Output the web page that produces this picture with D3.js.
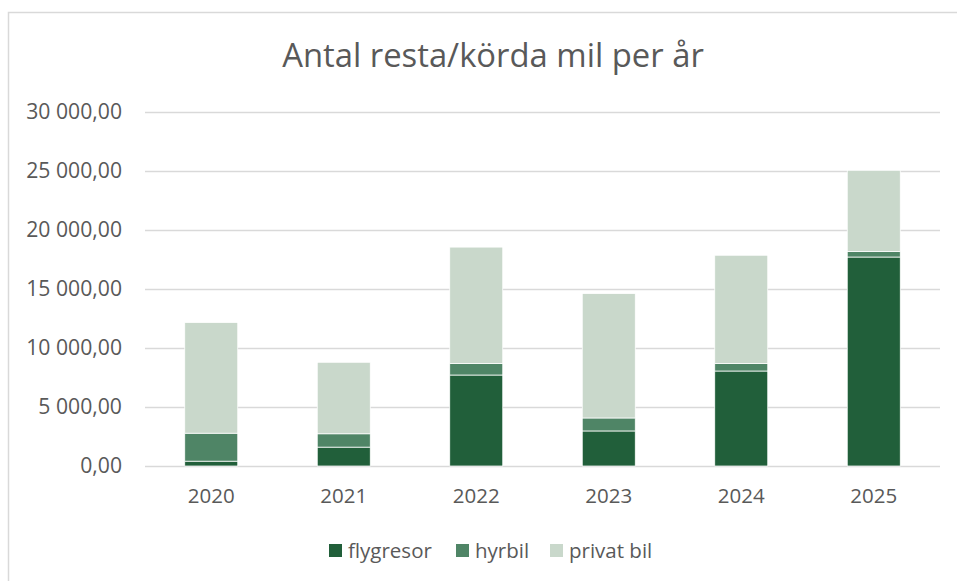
<!DOCTYPE html>
<html>
<head>
<meta charset="utf-8">
<script src="https://cdn.jsdelivr.net/npm/d3@7"></script>
<style>
  body { margin: 0; background: #fff; }
  svg { display: block; font-family: "Open Sans", sans-serif; }
</style>
</head>
<body>
<div id="chart"></div>
<script>
(function () {

  var years = ["2020", "2021", "2022", "2023", "2024", "2025"];
  var flygresor = [410, 1600, 7710, 2970, 8050, 17710];
  var hyrbil = [2370, 1130, 970, 1100, 630, 480];
  var privatBil = [9380, 6060, 9870, 10540, 9180, 6870];
  var seriesNames = ["flygresor", "hyrbil", "privat bil"];
  var colors = ["#215f3a", "#4f8566", "#c9d8cb"];
  var yTicks = [0, 5000, 10000, 15000, 20000, 25000, 30000];

  var w = 957;
  var h = 581;

  var margin = {
    top: 112,
    left: 145,
    right: 17,
    bottom: 115
  };

  var width = w - margin.left - margin.right;
  var height = h - margin.top - margin.bottom;

  var rows = years.map(function (y, i) {
    return { year: y, "flygresor": flygresor[i], "hyrbil": hyrbil[i], "privat bil": privatBil[i] };
  });

  var stacked = d3.stack().keys(seriesNames)(rows);

  var svg = d3.select("#chart")
    .append("svg")
    .attr("width", w)
    .attr("height", h);

  // chart frame (runs off the right and bottom edge)
  svg.append("rect")
    .attr("x", 8.5)
    .attr("y", 12.5)
    .attr("width", 1000)
    .attr("height", 1000)
    .style("fill", "none")
    .style("stroke", "#d9d9d9")
    .style("stroke-width", 1.5);

  svg.append("text")
    .attr("x", 493)
    .attr("y", 67)
    .attr("text-anchor", "middle")
    .attr("font-size", 32.8)
    .style("fill", "#595959")
    .text("Antal resta/körda mil per år");

  var g = svg.append("g")
    .attr("transform", "translate(" + margin.left + "," + margin.top + ")");

  var x = d3.scaleBand()
    .domain(years)
    .range([0, width])
    .paddingInner(0.6)
    .paddingOuter(0.3);

  var y = d3.scaleLinear()
    .domain([0, 30000])
    .range([height, 0]);

  var fmt = function (d) {
    var s = d3.format(",.2f")(d);
    return s.replace(/,/g, " ").replace(".", ",");
  };

  // gridlines
  g.append("g")
    .selectAll("line")
    .data(yTicks)
    .enter()
    .append("line")
    .attr("x1", 0)
    .attr("x2", width)
    .attr("y1", function (d) { return Math.round(y(d)) + 0.5; })
    .attr("y2", function (d) { return Math.round(y(d)) + 0.5; })
    .style("stroke", "#d9d9d9")
    .style("stroke-width", 1.5);

  var yAxis = g.append("g")
    .call(d3.axisLeft(y).tickValues(yTicks).tickFormat(fmt).tickSize(0).tickPadding(23));
  yAxis.select(".domain").remove();
  yAxis.selectAll("text")
    .attr("font-size", 21.2)
    .attr("font-family", "Open Sans")
    .style("fill", "#595959");

  g.append("g")
    .selectAll("g")
    .data(stacked)
    .enter()
    .append("g")
    .style("fill", function (d, i) { return colors[i]; })
    .selectAll("rect")
    .data(function (d) { return d; })
    .enter()
    .append("rect")
    .attr("x", function (d) { return x(d.data.year); })
    .attr("y", function (d) { return y(d[1]); })
    .attr("height", function (d) { return y(d[0]) - y(d[1]); })
    .attr("width", x.bandwidth())
    .style("stroke", "#ffffff")
    .style("stroke-width", 0.75);

  var xAxis = g.append("g")
    .attr("transform", "translate(0," + height + ")")
    .call(d3.axisBottom(x).tickSize(0).tickPadding(22));
  xAxis.select(".domain").remove();
  xAxis.selectAll("text")
    .attr("font-size", 20.5)
    .attr("font-family", "Open Sans")
    .style("fill", "#595959");

  // legend
  var legendX = [329, 456, 550];
  var legend = svg.append("g");
  seriesNames.forEach(function (name, i) {
    legend.append("rect")
      .attr("x", legendX[i])
      .attr("y", 544)
      .attr("width", 13)
      .attr("height", 13)
      .style("fill", colors[i]);
    legend.append("text")
      .attr("x", legendX[i] + 19)
      .attr("y", 551)
      .attr("dy", "0.35em")
      .attr("font-size", 20.5)
      .style("fill", "#595959")
      .text(name);
  });

})();
</script>
</body>
</html>
